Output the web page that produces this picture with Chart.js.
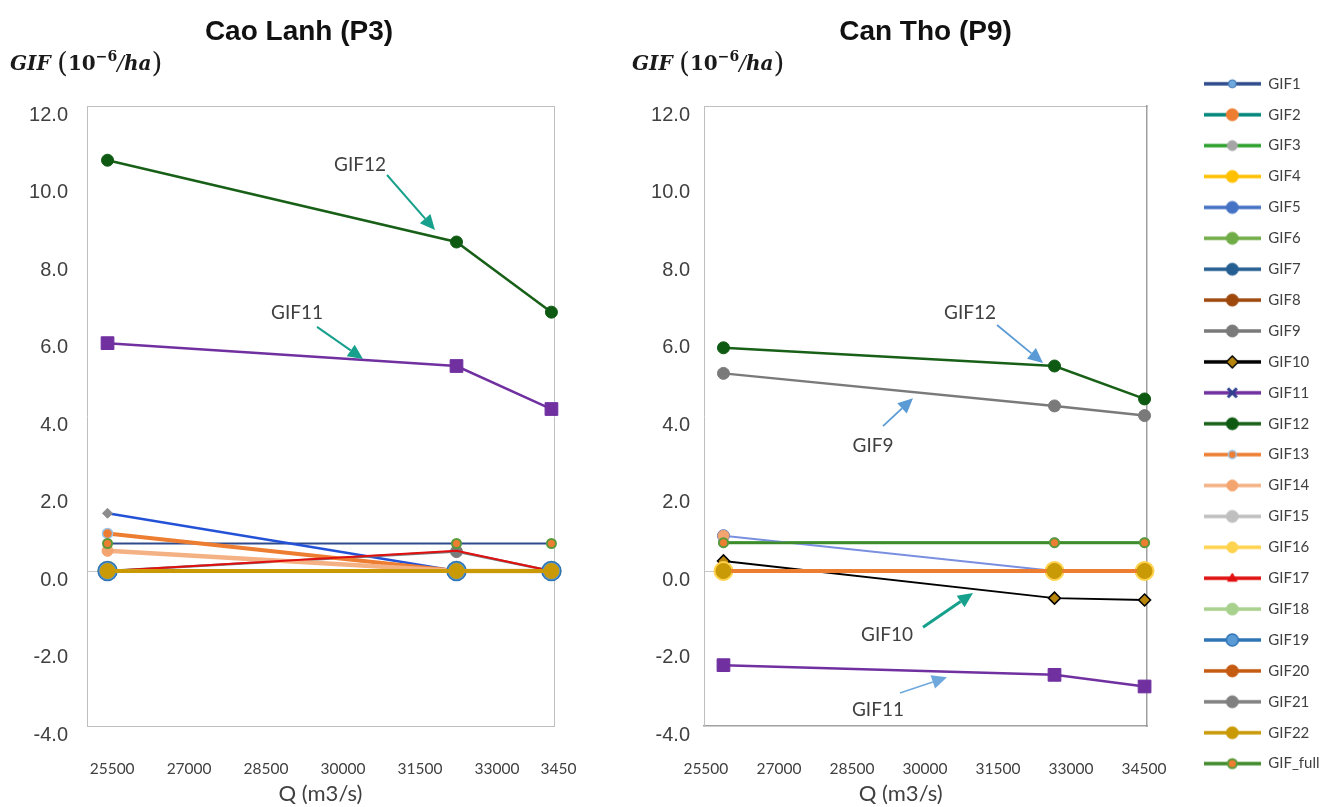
<!DOCTYPE html>
<html>
<head>
<meta charset="utf-8">
<title>GIF vs Q – Cao Lanh (P3) and Can Tho (P9)</title>
<script src="https://cdn.jsdelivr.net/npm/chart.js@4.4.1/dist/chart.umd.min.js"></script>
<style>
  html, body { margin: 0; padding: 0; background: #ffffff; overflow: hidden; }
  #wrap { position: relative; width: 1328px; height: 807px; overflow: hidden; background: #ffffff; }
  canvas { position: absolute; top: 0; }
  #caoLanh { left: 0; }
  #canTho { left: 598px; }
</style>
</head>
<body>
<div id="wrap">
  <canvas id="caoLanh" width="598" height="807"></canvas>
  <canvas id="canTho" width="742" height="807"></canvas>
</div>
<script>
// ---------------- data ----------------
const Q = [25800, 32600, 34450];                       // discharge, m3/s
const xTickValues = [25500, 27000, 28500, 30000, 31500, 33000, 34500];
const xTickLabelsP3 = ['25500', '27000', '28500', '30000', '31500', '33000', '3450'];
const xTickLabelsP9 = ['25500', '27000', '28500', '30000', '31500', '33000', '34500'];
const yTickValues = [-4, -2, 0, 2, 4, 6, 8, 10, 12];
const seriesNames = ['GIF1', 'GIF2', 'GIF3', 'GIF4', 'GIF5', 'GIF6', 'GIF7', 'GIF8', 'GIF9', 'GIF10',
  'GIF11', 'GIF12', 'GIF13', 'GIF14', 'GIF15', 'GIF16', 'GIF17', 'GIF18', 'GIF19', 'GIF20',
  'GIF21', 'GIF22', 'GIF_full'];

// Cao Lanh (P3), GIF in 10^-6/ha at each Q
const P3_GIF1 = [0.71, 0.71, 0.71];
const P3_GIF2 = [0, 0, 0];
const P3_GIF3 = [0, 0, 0];
const P3_GIF4 = [0, 0, 0];
const P3_GIF5 = [1.49, 0, 0];
const P3_GIF6 = [0, 0, 0];
const P3_GIF7 = [0, 0, 0];
const P3_GIF8 = [0, 0, 0];
const P3_GIF9 = [0, 0.50, 0];
const P3_GIF10 = [0, 0, 0];
const P3_GIF11 = [5.88, 5.29, 4.18];
const P3_GIF12 = [10.60, 8.49, 6.68];
const P3_GIF13 = [0.97, 0, 0];
const P3_GIF14 = [0.52, 0, 0];
const P3_GIF15 = [0, 0, 0];
const P3_GIF16 = [0, 0, 0];
const P3_GIF17 = [0, 0.52, 0];
const P3_GIF18 = [0, 0, 0];
const P3_GIF19 = [0, 0, 0];
const P3_GIF20 = [0, 0, 0];
const P3_GIF21 = [0, 0, 0];
const P3_GIF22 = [0, 0, 0];
const P3_GIF_full = [0.71, 0.71, 0.71];

// Can Tho (P9)
const P9_GIF1 = [0, 0, 0];
const P9_GIF2 = [0, 0, 0];
const P9_GIF3 = [0.73, 0.73, 0.73];
const P9_GIF4 = [0, 0, 0];
const P9_GIF5 = [0.91, 0, 0];
const P9_GIF6 = [0, 0, 0];
const P9_GIF7 = [0, 0, 0];
const P9_GIF8 = [0, 0, 0];
const P9_GIF9 = [5.10, 4.26, 4.01];
const P9_GIF10 = [0.26, -0.70, -0.75];
const P9_GIF11 = [-2.43, -2.68, -2.98];
const P9_GIF12 = [5.76, 5.29, 4.44];
const P9_GIF13 = [0, 0, 0];
const P9_GIF14 = [0.91, 0, 0];
const P9_GIF15 = [0, 0, 0];
const P9_GIF16 = [0, 0, 0];
const P9_GIF17 = [0, 0, 0];
const P9_GIF18 = [0, 0, 0];
const P9_GIF19 = [0, 0, 0];
const P9_GIF20 = [0, 0, 0];
const P9_GIF21 = [0, 0, 0];
const P9_GIF22 = [0, 0, 0];
const P9_GIF_full = [0.73, 0.73, 0.73];

const valuesP3 = [P3_GIF1, P3_GIF2, P3_GIF3, P3_GIF4, P3_GIF5, P3_GIF6, P3_GIF7, P3_GIF8, P3_GIF9,
  P3_GIF10, P3_GIF11, P3_GIF12, P3_GIF13, P3_GIF14, P3_GIF15, P3_GIF16, P3_GIF17, P3_GIF18,
  P3_GIF19, P3_GIF20, P3_GIF21, P3_GIF22, P3_GIF_full];
const valuesP9 = [P9_GIF1, P9_GIF2, P9_GIF3, P9_GIF4, P9_GIF5, P9_GIF6, P9_GIF7, P9_GIF8, P9_GIF9,
  P9_GIF10, P9_GIF11, P9_GIF12, P9_GIF13, P9_GIF14, P9_GIF15, P9_GIF16, P9_GIF17, P9_GIF18,
  P9_GIF19, P9_GIF20, P9_GIF21, P9_GIF22, P9_GIF_full];

// ---------------- series styles ----------------
const STYLE = {
  GIF1:  { line: '#2F4B8C', w: 2,   shape: 'circle',   r: 4,   fill: '#6FA8DC', edge: '#3A6FB0', bw: 1 },
  GIF2:  { line: '#00857A', w: 2.5, shape: 'circle',   r: 6,   fill: '#ED7D31' },
  GIF3:  { line: '#2CA02C', w: 3,   shape: 'circle',   r: 5,   fill: '#A5A5A5' },
  GIF4:  { line: '#FFC000', w: 3,   shape: 'circle',   r: 6,   fill: '#FFC000' },
  GIF5:  { line: '#4472C4', w: 2.5, shape: 'circle',   r: 6,   fill: '#4472C4' },
  GIF6:  { line: '#70AD47', w: 3,   shape: 'circle',   r: 6,   fill: '#70AD47' },
  GIF7:  { line: '#255E91', w: 3,   shape: 'circle',   r: 6,   fill: '#255E91' },
  GIF8:  { line: '#9E480E', w: 3,   shape: 'circle',   r: 6,   fill: '#9E480E' },
  GIF9:  { line: '#7A7A7A', w: 2.5, shape: 'circle',   r: 6,   fill: '#7A7A7A' },
  GIF10: { line: '#000000', w: 2,   shape: 'rectRot',  r: 6,   fill: '#B8860B', edge: '#000000', bw: 1.5 },
  GIF11: { line: '#7030A0', w: 2.5, shape: 'rect',     r: 9,   fill: '#7030A0' },
  GIF12: { line: '#186018', w: 2.5, shape: 'circle',   r: 6,   fill: '#0F5A12' },
  GIF13: { line: '#ED7D31', w: 4,   shape: 'circle',   r: 5,   fill: '#ED7D31', edge: '#9DC3E6', bw: 1.5 },
  GIF14: { line: '#F4B183', w: 4.5, shape: 'circle',   r: 5.5, fill: '#F4A46E' },
  GIF15: { line: '#BFBFBF', w: 3,   shape: 'circle',   r: 6,   fill: '#BFBFBF' },
  GIF16: { line: '#FFD34E', w: 3,   shape: 'circle',   r: 9.5, fill: '#FFD34E' },
  GIF17: { line: '#E01010', w: 2,   shape: 'triangle', r: 5,   fill: '#E01010' },
  GIF18: { line: '#A9D18E', w: 3,   shape: 'circle',   r: 6,   fill: '#A9D18E' },
  GIF19: { line: '#2E75B6', w: 3,   shape: 'circle',   r: 9.5, fill: '#5B9BD5', edge: '#2E75B6', bw: 1.5 },
  GIF20: { line: '#C55A11', w: 3,   shape: 'circle',   r: 6,   fill: '#C55A11' },
  GIF21: { line: '#808080', w: 3,   shape: 'circle',   r: 6,   fill: '#808080' },
  GIF22: { line: '#C99A06', w: 4,   shape: 'circle',   r: 7.5, fill: '#C99A06' },
  GIF_full: { line: '#3F8A2A', w: 2.5, shape: 'circle', r: 4.5, fill: '#ED7D31', edge: '#5A9A3A', bw: 2 }
};

// legend swatch markers that differ from the plotted marker size/shape
const LEGEND_MARK = {
  GIF11: { shape: 'crossRot', r: 6, fill: '#2F3F8F', edge: '#2F3F8F', bw: 3 },
  GIF13: { r: 4 },
  GIF16: { r: 5.5 },
  GIF19: { r: 6 }
};

// per-station drawing tweaks
const tweaksP3 = {
  GIF5: { borderColor: '#2452D6', pointStyle: 'rectRot', pointRadius: 5,
          pointBackgroundColor: '#8C8C8C', pointBorderColor: '#8C8C8C' },
  GIF17: { pointRadius: 0 },
  GIF_full: { showLine: false }
};
const tweaksP9 = {
  GIF5: { borderColor: '#7B8FE0', borderWidth: 1.8 },
  GIF14: { showLine: false },
  GIF19: { pointRadius: 6 },
  GIF13: { order: -21.5 },
  GIF22: { showLine: false, order: -21.7 }
};

// callouts (data coordinates: [Q, GIF])
const calloutsP3 = [
  { text: 'GIF12', at: [30720, 10.48], from: [31246, 10.22], to: [32181, 8.80], color: '#17A08C', w: 2 },
  { text: 'GIF11', at: [29492, 6.66], from: [29882, 6.30], to: [30778, 5.47], color: '#17A08C', w: 2 }
];
const calloutsP9 = [
  { text: 'GIF12', at: [30864, 6.66], from: [31419, 6.35], to: [32364, 5.37], color: '#5B9BD5', w: 1.8 },
  { text: 'GIF9',  at: [28872, 3.23], from: [29077, 3.74], to: [29693, 4.46], color: '#5B9BD5', w: 1.8 },
  { text: 'GIF10', at: [29159, -1.65], from: [29899, -1.45], to: [30926, -0.57], color: '#17A08C', w: 3 },
  { text: 'GIF11', at: [28974, -3.59], from: [29426, -3.15], to: [30392, -2.74], color: '#6FA8DC', w: 1.5 }
];

// ---------------- helpers ----------------
function markerPath(g, shape, x, y, r) {
  g.beginPath();
  if (shape === 'rectRot') {
    g.moveTo(x, y - r); g.lineTo(x + r, y); g.lineTo(x, y + r); g.lineTo(x - r, y); g.closePath();
  } else if (shape === 'rect') {
    const s = r * Math.SQRT1_2; g.rect(x - s, y - s, 2 * s, 2 * s);
  } else if (shape === 'triangle') {
    g.moveTo(x, y - r); g.lineTo(x + r * 0.95, y + r * 0.6); g.lineTo(x - r * 0.95, y + r * 0.6); g.closePath();
  } else if (shape === 'crossRot') {
    const s = r * 0.75;
    g.moveTo(x - s, y - s); g.lineTo(x + s, y + s); g.moveTo(x + s, y - s); g.lineTo(x - s, y + s);
  } else {
    g.arc(x, y, r, 0, Math.PI * 2);
  }
}

function legendSwatch(name) {
  const s = STYLE[name];
  const m = Object.assign({ shape: s.shape, r: Math.min(s.r, 6), fill: s.fill, edge: s.edge || s.fill, bw: s.bw || 1 },
                          LEGEND_MARK[name] || {});
  const c = document.createElement('canvas');
  c.width = 57; c.height = 16;
  const g = c.getContext('2d');
  g.strokeStyle = s.line; g.lineWidth = 3.5;
  g.beginPath(); g.moveTo(0, 8); g.lineTo(57, 8); g.stroke();
  markerPath(g, m.shape, 28.5, 8, m.r);
  g.lineWidth = m.bw; g.fillStyle = m.fill; g.strokeStyle = m.edge;
  if (m.shape !== 'crossRot') g.fill();
  g.stroke();
  return c;
}

function buildDatasets(values, tweaks) {
  return seriesNames.map((name, i) => {
    const s = STYLE[name];
    return Object.assign({
      label: name,
      data: values[i].map((v, k) => ({ x: Q[k], y: v })),
      borderColor: s.line,
      borderWidth: s.w,
      pointStyle: s.shape,
      pointRadius: s.r,
      pointHoverRadius: s.r,
      pointBackgroundColor: s.fill,
      pointBorderColor: s.edge || s.fill,
      pointBorderWidth: s.bw || 1,
      tension: 0,
      fill: false,
      clip: false,
      order: -i
    }, tweaks[name] || {});
  });
}

// text + arrow callouts, placed through the chart scales
const calloutPlugin = {
  id: 'callouts',
  afterDatasetsDraw(chart, args, opts) {
    const { ctx } = chart;
    const xs = chart.scales.x, ys = chart.scales.y;
    (opts.items || []).forEach(a => {
      ctx.save();
      ctx.font = '19px Lato';
      ctx.fillStyle = '#404040';
      ctx.textAlign = 'center';
      ctx.textBaseline = 'middle';
      ctx.fillText(a.text, xs.getPixelForValue(a.at[0]), ys.getPixelForValue(a.at[1]));
      const x1 = xs.getPixelForValue(a.from[0]), y1 = ys.getPixelForValue(a.from[1]);
      const x2 = xs.getPixelForValue(a.to[0]), y2 = ys.getPixelForValue(a.to[1]);
      const ang = Math.atan2(y2 - y1, x2 - x1);
      const head = 15, half = 7;
      const bx = x2 - head * Math.cos(ang), by = y2 - head * Math.sin(ang);
      ctx.strokeStyle = a.color; ctx.fillStyle = a.color; ctx.lineWidth = a.w;
      ctx.beginPath(); ctx.moveTo(x1, y1); ctx.lineTo(bx, by); ctx.stroke();
      ctx.beginPath();
      ctx.moveTo(x2, y2);
      ctx.lineTo(bx + half * Math.sin(ang), by - half * Math.cos(ang));
      ctx.lineTo(bx - half * Math.sin(ang), by + half * Math.cos(ang));
      ctx.closePath(); ctx.fill();
      ctx.restore();
    });
  }
};

// "GIF (10^-6/ha)" unit caption above the value axis
const unitPlugin = {
  id: 'unitCaption',
  afterDraw(chart, args, opts) {
    const ctx = chart.ctx;
    const fam = '"DejaVu Serif", "Liberation Serif", serif';
    const parts = [
      { f: 'bold italic 20px ' + fam, t: 'GIF', dy: 0 },
      { f: '20px ' + fam, t: ' ', dy: 0 },
      { f: '28px ' + fam, t: '(', dy: 2 },
      { f: 'bold 20px ' + fam, t: '10', dy: 0 },
      { f: 'bold 14px ' + fam, t: '\u22126', dy: -9 },
      { f: 'italic 20px ' + fam, t: '/', dy: 0 },
      { f: 'bold italic 20px ' + fam, t: 'ha', dy: 0 },
      { f: '28px ' + fam, t: ')', dy: 2 }
    ];
    ctx.save();
    ctx.fillStyle = '#1A1A1A';
    ctx.textBaseline = 'alphabetic';
    ctx.textAlign = 'left';
    let x = opts.x;
    parts.forEach(p => {
      ctx.font = p.f;
      ctx.fillText(p.t, x, opts.y + p.dy);
      x += ctx.measureText(p.t).width;
    });
    ctx.restore();
  }
};

Chart.defaults.font.family = 'Lato';
Chart.defaults.color = '#404040';

const PLOT_TOP_GAP = 57.4;   // space between title box and plot frame
const X_AXIS_HEIGHT = 81;    // tick labels + axis title below the frame

function xScale(labels, labelOffset, titleText, borderColor, borderWidth) {
  return {
    type: 'linear', position: 'bottom', min: 25400, max: 34500,
    afterBuildTicks: s => { s.ticks = xTickValues.map(v => ({ value: v })); },
    ticks: {
      callback: (v, i) => labels[i],
      font: { family: 'Lato', size: 15.5 }, color: '#404040',
      padding: 3, labelOffset: labelOffset, maxRotation: 0, autoSkip: false
    },
    grid: { display: true, drawOnChartArea: false, drawTicks: true, tickLength: 31, tickColor: 'rgba(0,0,0,0)' },
    border: { display: true, color: borderColor, width: borderWidth },
    title: { display: true, text: titleText, font: { family: 'Lato', size: 22 }, color: '#404040', padding: { top: 0, bottom: 0 } },
    afterFit: s => { s.height = X_AXIS_HEIGHT; }
  };
}

function yScale(width, pad, borderColor) {
  return {
    type: 'linear', position: 'left', min: -4, max: 12,
    afterBuildTicks: s => { s.ticks = yTickValues.map(v => ({ value: v })); },
    ticks: {
      callback: v => Number(v).toFixed(1),
      font: { family: 'Liberation Sans', size: 20 }, color: '#404040',
      padding: pad, labelOffset: 9
    },
    grid: { drawTicks: false, lineWidth: 1, color: c => (c.tick && c.tick.value === 0) ? '#C8C8C8' : 'rgba(0,0,0,0)' },
    border: { display: true, color: borderColor, width: 1 },
    afterFit: s => { s.width = width; }
  };
}

function frameTop(color) {
  return {
    type: 'linear', position: 'top', display: true,
    grid: { display: false }, ticks: { display: false },
    border: { display: true, color: color, width: 1 },
    afterFit: s => { s.height = PLOT_TOP_GAP; }
  };
}

function frameRight(color, width, widthFn) {
  return {
    type: 'linear', position: 'right', display: true,
    grid: { display: false }, ticks: { display: false },
    border: { display: true, color: color, width: width },
    afterFit: widthFn
  };
}

const titleFont = { family: 'Liberation Sans', size: 28, weight: 'bold' };

// ---------------- Cao Lanh (P3) ----------------
new Chart(document.getElementById('caoLanh'), {
  type: 'line',
  data: { datasets: buildDatasets(valuesP3, tweaksP3) },
  options: {
    responsive: false, animation: false, events: [],
    layout: { padding: 0 },
    scales: {
      x: xScale(xTickLabelsP3.map((t, i) => i === xTickLabelsP3.length - 1 ? t + '\u2003\u2003\u2002' : t), 20, 'Q (m3/s)', '#BFBFBF', 1),
      y: yScale(87, 19, '#BFBFBF'),
      x2: frameTop('#BFBFBF'),
      y2: frameRight('#BFBFBF', 1, s => { s.width = 44; })
    },
    plugins: {
      legend: { display: false },
      tooltip: { enabled: false },
      title: { display: true, text: 'Cao Lanh (P3)', font: titleFont, color: '#111111', padding: { top: 15, bottom: 0 } },
      callouts: { items: calloutsP3 },
      unitCaption: { x: 10, y: 70 }
    }
  },
  plugins: [calloutPlugin, unitPlugin]
});

// ---------------- Can Tho (P9) ----------------
const PLOT_RIGHT_P9 = 549;   // right edge of the P9 frame inside its canvas
const LEGEND_RIGHT_GAP = 3;
const swatches = seriesNames.map(legendSwatch);

new Chart(document.getElementById('canTho'), {
  type: 'line',
  data: { datasets: buildDatasets(valuesP9, tweaksP9) },
  options: {
    responsive: false, animation: false, events: [],
    layout: { padding: { right: LEGEND_RIGHT_GAP } },
    scales: {
      x: xScale(xTickLabelsP9, -3, 'Q (m3/s)\u2003\u2003\u2003', '#A0A0A0', 1.5),
      y: yScale(106, 14, '#BFBFBF'),
      x2: frameTop('#BFBFBF'),
      y2: frameRight('#A0A0A0', 1.5, s => {
        const lg = s.chart.legend;
        s.width = Math.max(0, s.chart.width - LEGEND_RIGHT_GAP - (lg ? lg.width : 0) - PLOT_RIGHT_P9);
      })
    },
    plugins: {
      tooltip: { enabled: false },
      title: { display: true, text: 'Can Tho (P9)', fullSize: false, font: titleFont, color: '#111111', padding: { top: 15, bottom: 0 } },
      legend: {
        display: true, position: 'right', align: 'start', maxWidth: 220,
        title: { display: true, text: '', padding: { top: 46, bottom: 0 } },
        labels: {
          usePointStyle: true, pointStyleWidth: 57, padding: 15.9,
          font: { family: 'Lato', size: 15 }, color: '#404040',
          // a trailing en space keeps the longest name clear of the legend box edge
          generateLabels: () => seriesNames.map((name, i) => ({
            text: name + '\u2002', pointStyle: swatches[i], datasetIndex: i, hidden: false,
            lineWidth: 0, strokeStyle: 'rgba(0,0,0,0)', fillStyle: 'rgba(0,0,0,0)', fontColor: '#404040'
          }))
        }
      },
      callouts: { items: calloutsP9 },
      unitCaption: { x: 34, y: 70 }
    }
  },
  plugins: [calloutPlugin, unitPlugin]
});
</script>
</body>
</html>
